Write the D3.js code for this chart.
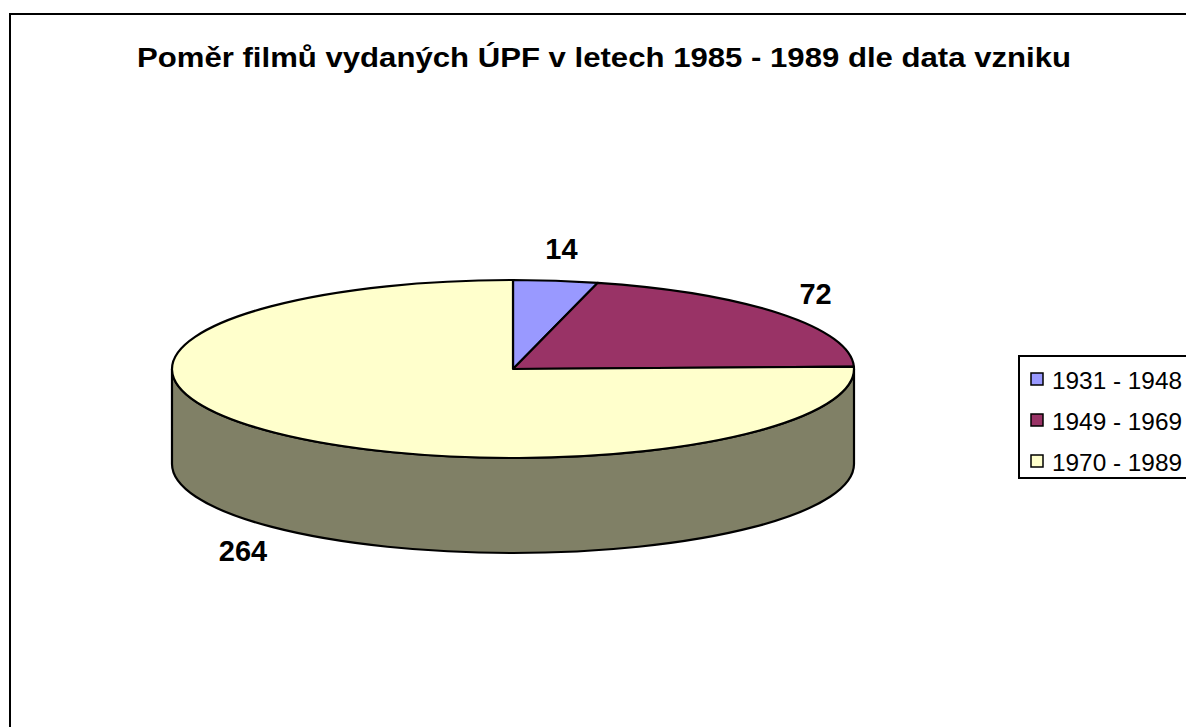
<!DOCTYPE html>
<html>
<head>
<meta charset="utf-8">
<script src="https://cdnjs.cloudflare.com/ajax/libs/d3/7.8.5/d3.min.js"></script>
<style type='text/css'>
  body { margin: 0; background: #fff; }
  svg text { font-family: Arial, "Liberation Sans", sans-serif; }
</style>
</head>
<body>
<div id='chart'></div>
<script type='text/javascript'>
// data
var categories = ['1931 - 1948', '1949 - 1969', '1970 - 1989'];
var values = [14, 72, 264];
var topColors = ['#9999FF', '#993366', '#FFFFCC'];
var sideColors = ['#4D4D80', '#4D1A33', '#808066'];
var title = 'Poměr filmů vydaných ÚPF v letech 1985 - 1989 dle data vzniku';

var W = 1186, H = 727;
var cx = 513, cy = 369, rx = 341, ry = 89, depth = 95;

var svg = d3.select('#chart').append('svg')
  .attr('width', W)
  .attr('height', H);

// outer frame (runs off the right and bottom edge)
svg.append('rect')
  .attr('x', 10).attr('y', 14)
  .attr('width', W + 20).attr('height', H + 20)
  .attr('fill', '#fff')
  .attr('stroke', '#000')
  .attr('stroke-width', 2);

svg.append('text')
  .attr('x', 604).attr('y', 67)
  .attr('text-anchor', 'middle')
  .attr('font-size', 27)
  .attr('font-weight', 'bold')
  .attr('textLength', 934)
  .attr('lengthAdjust', 'spacingAndGlyphs')
  .text(title);

var pie = d3.pie().sort(null).value(function(d) { return d; });
var arcs = pie(values);

function pt(a, dy) {
  return [cx + rx * Math.sin(a), cy - ry * Math.cos(a) + (dy || 0)];
}

// side walls, only the front half (pi/2 .. 3pi/2) is visible
var sides = svg.append('g');
arcs.forEach(function(d, i) {
  var a0 = Math.max(d.startAngle, Math.PI / 2);
  var a1 = Math.min(d.endAngle, Math.PI * 3 / 2);
  if (a1 <= a0) return;
  var p0 = pt(a0), p1 = pt(a1), q1 = pt(a1, depth), q0 = pt(a0, depth);
  var path = 'M' + p0 + ' A' + rx + ',' + ry + ' 0 0 1 ' + p1 +
    ' L' + q1 + ' A' + rx + ',' + ry + ' 0 0 0 ' + q0 + ' Z';
  sides.append('path')
    .attr('d', path)
    .attr('fill', sideColors[i])
    .attr('stroke', '#000')
    .attr('stroke-width', 2.2)
    .attr('stroke-linejoin', 'round');
});

// top face
var tops = svg.append('g');
arcs.forEach(function(d, i) {
  var p0 = pt(d.startAngle), p1 = pt(d.endAngle);
  var large = (d.endAngle - d.startAngle) > Math.PI ? 1 : 0;
  var path = 'M' + cx + ',' + cy + ' L' + p0 + ' A' + rx + ',' + ry + ' 0 ' + large + ' 1 ' + p1 + ' Z';
  tops.append('path')
    .attr('d', path)
    .attr('fill', topColors[i])
    .attr('stroke', '#000')
    .attr('stroke-width', 2.2)
    .attr('stroke-linejoin', 'round');
});

// value labels
arcs.forEach(function(d, i) {
  var m = (d.startAngle + d.endAngle) / 2;
  var lx = cx + (rx + 46) * Math.sin(m);
  var ly = cy - (ry + 32) * Math.cos(m) + (Math.cos(m) < 0 ? depth : 0);
  svg.append('text')
    .attr('x', lx).attr('y', ly)
    .attr('text-anchor', 'middle')
    .attr('dominant-baseline', 'central')
    .attr('font-size', 29)
    .attr('font-weight', 'bold')
    .text(values[i]);
});

// legend
var legend = svg.append('g').attr('transform', 'translate(1019,356)');
legend.append('rect')
  .attr('x', 0).attr('y', 0)
  .attr('width', 200).attr('height', 122)
  .attr('fill', '#fff')
  .attr('stroke', '#000')
  .attr('stroke-width', 2);
var rows = legend.selectAll('g.row')
  .data(categories)
  .enter().append('g')
  .attr('class', 'row')
  .attr('transform', function(d, i) { return 'translate(0,' + (23 + i * 41) + ')'; });
rows.append('rect')
  .attr('x', 12).attr('y', -6)
  .attr('width', 12).attr('height', 12)
  .attr('fill', function(d, i) { return topColors[i]; })
  .attr('stroke', '#000')
  .attr('stroke-width', 1.5);
rows.append('text')
  .attr('x', 33).attr('y', 1)
  .attr('dominant-baseline', 'central')
  .attr('font-size', 24)
  .attr('textLength', 130)
  .attr('lengthAdjust', 'spacingAndGlyphs')
  .text(function(d) { return d; });
</script>
</body>
</html>
